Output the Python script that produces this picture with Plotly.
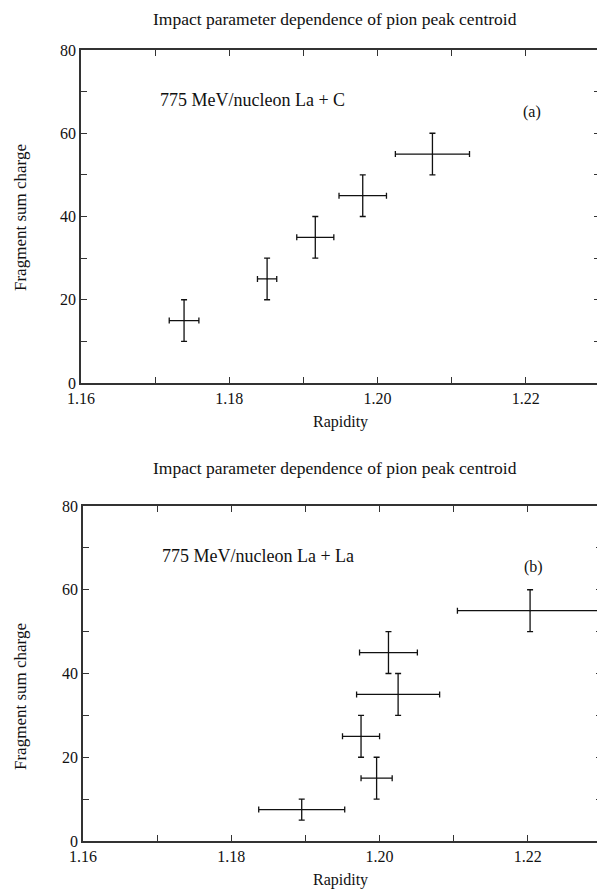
import plotly.graph_objects as go

# ---- data: panel (a) La + C ----
a_rapidity = [1.1739, 1.1851, 1.1916, 1.1980, 1.2074]
a_rapidity_err = [0.0020, 0.0013, 0.0025, 0.0032, 0.0050]
a_charge = [15, 25, 35, 45, 55]
a_charge_err = [5, 5, 5, 5, 5]

# ---- data: panel (b) La + La ----
b_rapidity = [1.1895, 1.1996, 1.1975, 1.2025, 1.2012, 1.2203]
b_rapidity_err = [0.0058, 0.0021, 0.0025, 0.0056, 0.0039, 0.0098]
b_charge = [7.5, 15, 25, 35, 45, 55]
b_charge_err = [2.5, 5, 5, 5, 5, 5]

x_tickvals = [1.16, 1.17, 1.18, 1.19, 1.20, 1.21, 1.22]
x_ticktext = ["1.16", "", "1.18", "", "1.20", "", "1.22"]
y_tickvals = [0, 10, 20, 30, 40, 50, 60, 70, 80]
y_ticktext = ["0", "", "20", "", "40", "", "60", "", "80"]

title_text = "Impact parameter dependence of pion peak centroid"
x_title = "Rapidity"
y_title = "Fragment sum charge"
label_a = "775 MeV/nucleon La + C"
label_b = "775 MeV/nucleon La + La"

# page body has an 8px margin: size the figure to fit inside the 605x892 window
OFF = 8
W, H = 605 - OFF, 892 - OFF
FONT = "Liberation Serif, Times New Roman, serif"
INK = "#111111"

fig = go.Figure()

def add_panel(xs, xe, ys, ye, xa, ya):
    fig.add_trace(go.Scatter(
        x=xs, y=ys, mode="markers",
        marker=dict(size=1, color=INK),
        error_x=dict(type="data", array=xe, visible=True, color=INK, thickness=1.3, width=3),
        error_y=dict(type="data", array=ye, visible=True, color=INK, thickness=1.3, width=3),
        xaxis=xa, yaxis=ya, showlegend=False, hoverinfo="skip",
    ))

add_panel(a_rapidity, a_rapidity_err, a_charge, a_charge_err, "x", "y")
add_panel(b_rapidity, b_rapidity_err, b_charge, b_charge_err, "x2", "y2")

def px_x(p):
    return (p - OFF) / W

def px_y(p):
    return 1 - (p - OFF) / H

axis_common = dict(
    automargin=False,
    showgrid=False, zeroline=False, showline=True, linecolor="#333333", linewidth=1.5,
    mirror="allticks", ticks="inside", ticklen=6, tickwidth=1.2, tickcolor="#333333",
    tickfont=dict(family=FONT, size=16, color=INK),
)

xa = dict(axis_common, range=[1.16, 1.23], tickmode="array",
          tickvals=x_tickvals, ticktext=x_ticktext)
ya = dict(axis_common, range=[0, 80], tickmode="array",
          tickvals=y_tickvals, ticktext=y_ticktext, ticklabelstandoff=0)

fig.update_layout(
    width=W, height=H,
    margin=dict(l=0, r=0, t=0, b=0, pad=0),
    paper_bgcolor="white", plot_bgcolor="white",
    font=dict(family=FONT, color=INK),
    xaxis=dict(xa, domain=[px_x(81), px_x(600)], anchor="y"),
    yaxis=dict(ya, domain=[px_y(383), px_y(50)], anchor="x"),
    xaxis2=dict(xa, domain=[px_x(83), px_x(602)], anchor="y2"),
    yaxis2=dict(ya, domain=[px_y(841), px_y(506)], anchor="x2"),
)

ann = []
for ty, axy, ayy in [(19, 422, 218), (468, 880, 697)]:
    ann.append(dict(text=title_text, x=px_x(335), y=px_y(ty), xref="paper", yref="paper",
                    showarrow=False, font=dict(size=17.5, family=FONT, color=INK),
                    xanchor="center", yanchor="middle"))
    ann.append(dict(text=x_title, x=px_x(340), y=px_y(axy), xref="paper", yref="paper",
                    showarrow=False, font=dict(size=16, family=FONT, color=INK),
                    xanchor="center", yanchor="middle"))
    ann.append(dict(text=y_title, x=px_x(20), y=px_y(ayy), xref="paper", yref="paper",
                    showarrow=False, textangle=-90, font=dict(size=17, family=FONT, color=INK),
                    xanchor="center", yanchor="middle"))

ann.append(dict(text=label_a, x=1.1704, y=68, xref="x", yref="y", showarrow=False,
                xanchor="left", yanchor="middle", font=dict(size=18, family=FONT, color=INK)))
ann.append(dict(text="(a)", x=1.2208, y=65, xref="x", yref="y", showarrow=False,
                xanchor="center", yanchor="middle", font=dict(size=16, family=FONT, color=INK)))
ann.append(dict(text=label_b, x=1.1704, y=68, xref="x2", yref="y2", showarrow=False,
                xanchor="left", yanchor="middle", font=dict(size=18, family=FONT, color=INK)))
ann.append(dict(text="(b)", x=1.2208, y=65.4, xref="x2", yref="y2", showarrow=False,
                xanchor="center", yanchor="middle", font=dict(size=16, family=FONT, color=INK)))

fig.update_layout(annotations=ann)

fig.write_html("out.html")
